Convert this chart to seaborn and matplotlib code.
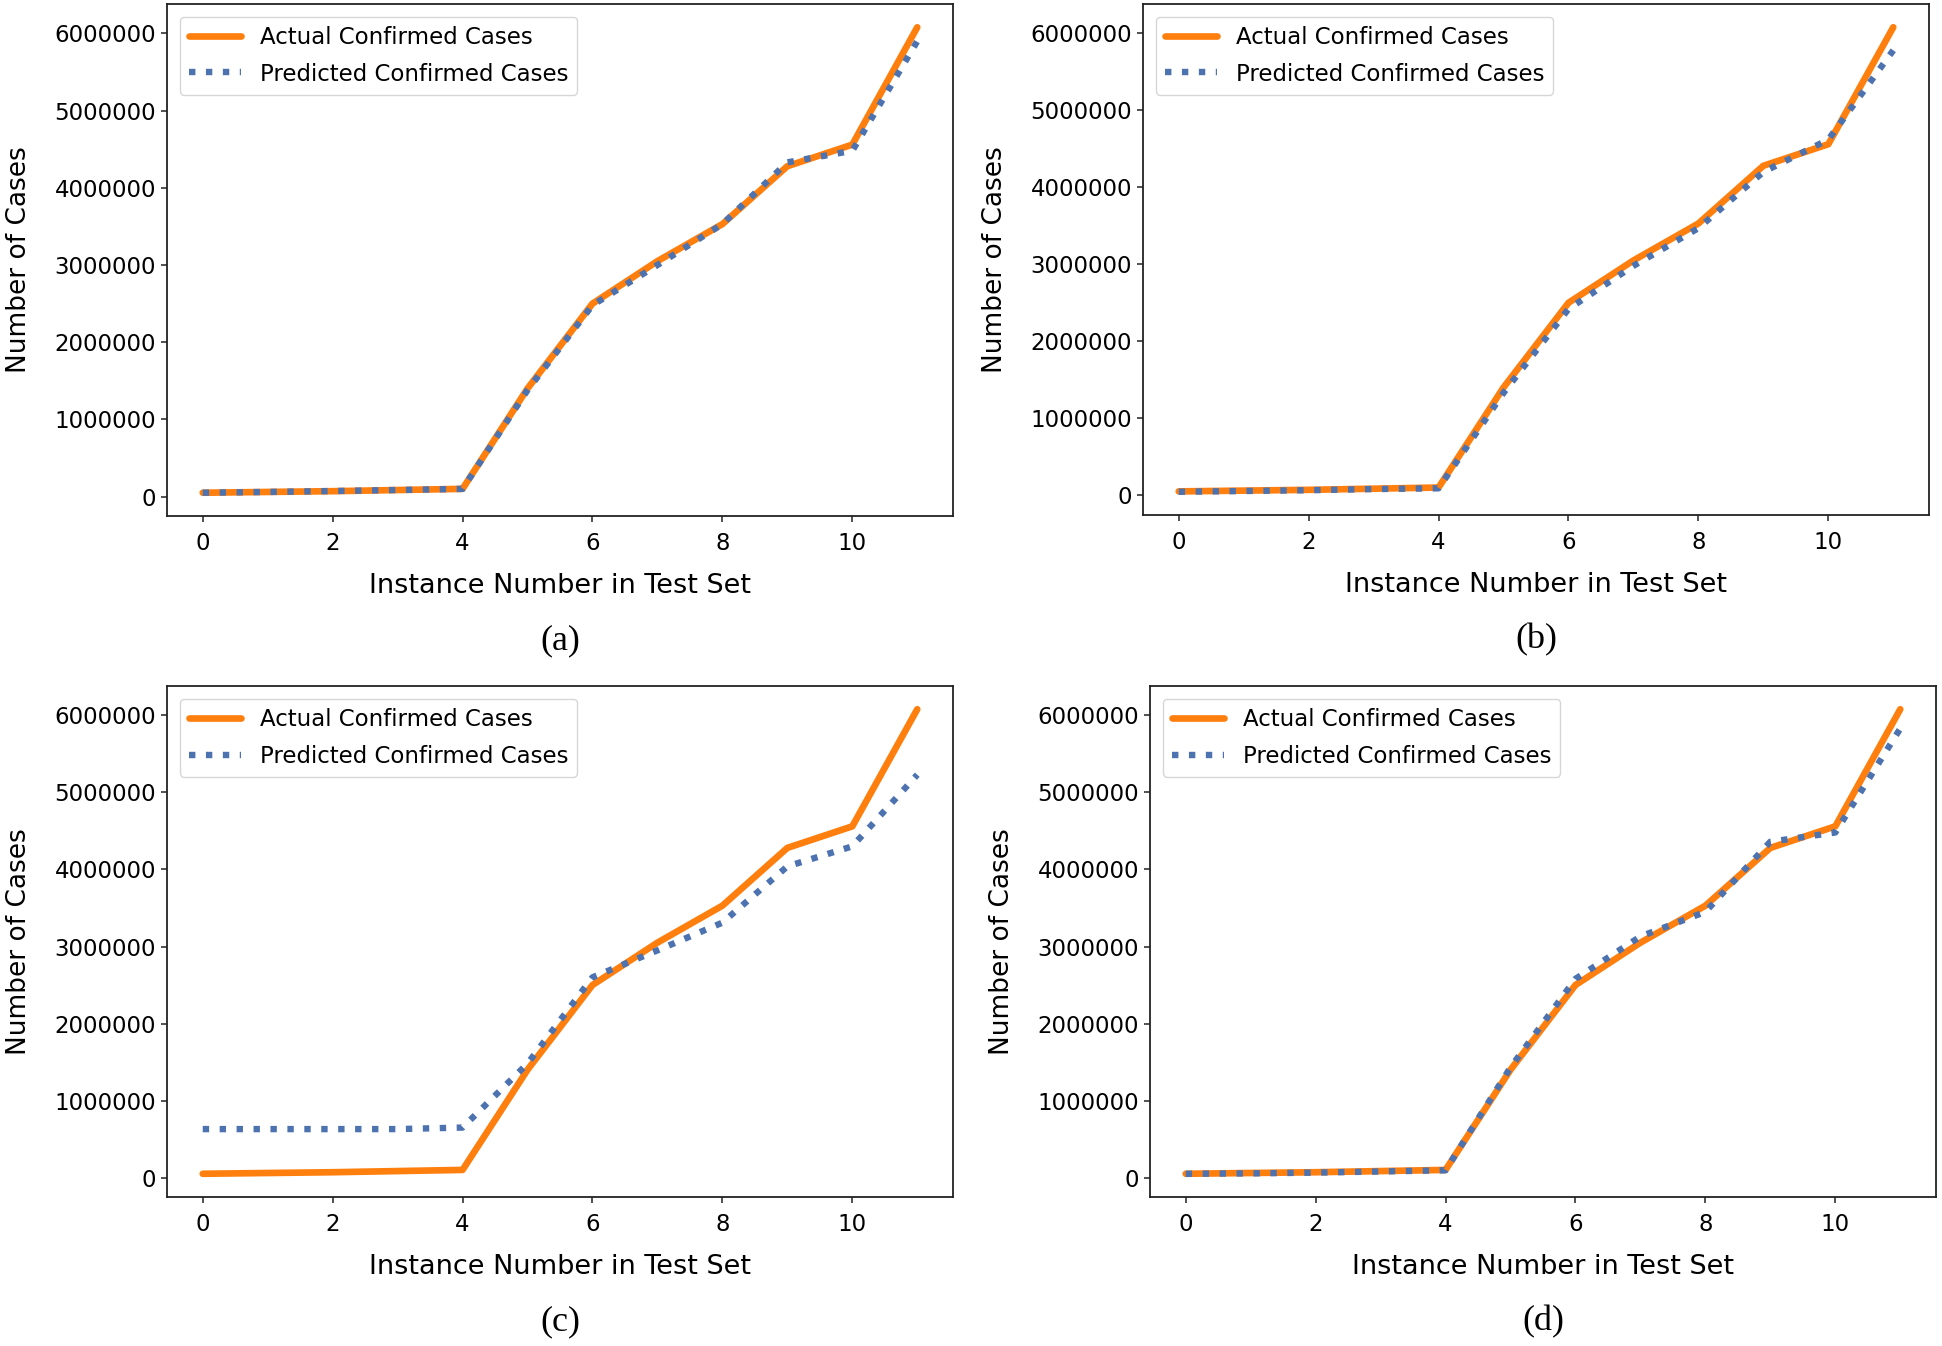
import seaborn as sns
import matplotlib.pyplot as plt
import numpy as np
import pandas as pd

# data
instance = list(range(12))
actual = [50000, 60000, 70000, 85000, 100000, 1400000, 2500000, 3050000, 3530000, 4280000, 4560000, 6080000]
pred_a = [50000, 60000, 72000, 85000, 100000, 1380000, 2480000, 3000000, 3530000, 4330000, 4480000, 5900000]
pred_b = [45000, 55000, 65000, 80000, 90000, 1330000, 2420000, 2980000, 3470000, 4200000, 4620000, 5780000]
pred_c = [630000, 630000, 630000, 630000, 650000, 1480000, 2600000, 2950000, 3310000, 4040000, 4300000, 5230000]
pred_d = [50000, 55000, 65000, 80000, 95000, 1430000, 2580000, 3130000, 3450000, 4360000, 4480000, 5830000]

panels = ['(a)', '(b)', '(c)', '(d)']
preds = [pred_a, pred_b, pred_c, pred_d]

sns.set_style('ticks')
plt.rcParams['font.family'] = ['DejaVu Sans']
plt.rcParams.update({'text.color': 'black', 'axes.labelcolor': 'black',
                     'xtick.color': 'black', 'ytick.color': 'black'})

W, H = 1942, 1346
fig = plt.figure(figsize=(W / 100, H / 100), dpi=100)

# axes boxes in pixels: left, top, right, bottom
boxes = [(167, 4, 953, 516), (1143, 4, 1929, 515),
         (167, 686, 953, 1197), (1150, 686, 1936, 1197)]

for name, pred, (l, t, r, b) in zip(panels, preds, boxes):
    ax = fig.add_axes([l / W, 1 - b / H, (r - l) / W, (b - t) / H])
    df = pd.DataFrame({'x': instance, 'actual': actual, 'pred': pred})
    sns.lineplot(data=df, x='x', y='actual', ax=ax, color='#ff7f0e', lw=4.8,
                 label='Actual Confirmed Cases')
    sns.lineplot(data=df, x='x', y='pred', ax=ax, color='#4c72b0', lw=4.6,
                 linestyle=':', label='Predicted Confirmed Cases')
    ax.set_xticks([0, 2, 4, 6, 8, 10])
    ax.set_yticks([0, 1000000, 2000000, 3000000, 4000000, 5000000, 6000000])
    ax.ticklabel_format(axis='y', style='plain')
    ax.tick_params(labelsize=16.5, length=4.5, width=1.2, color='#333333')
    ax.tick_params(axis='x', pad=7)
    for sp in ax.spines.values():
        sp.set_linewidth(1.3)
        sp.set_color('#222222')
    ax.set_xlabel('Instance Number in Test Set', fontsize=19.5)
    ax.set_ylabel('Number of Cases', fontsize=19)
    ax.xaxis.set_label_coords(0.5, -0.112)
    ax.yaxis.set_label_coords(-0.172, 0.5)
    leg = ax.legend(loc='upper left', fontsize=16.5, handlelength=2.3,
                    labelspacing=0.6, frameon=True, fancybox=True, framealpha=0.8,
                    edgecolor='#cccccc', borderaxespad=0.55)
    fig.text((l + r) / 2 / W, 1 - (b + 125) / H, name, ha='center', va='center',
             fontsize=26, family=['Liberation Serif', 'DejaVu Serif'])

fig.savefig('out.png', dpi=100)
